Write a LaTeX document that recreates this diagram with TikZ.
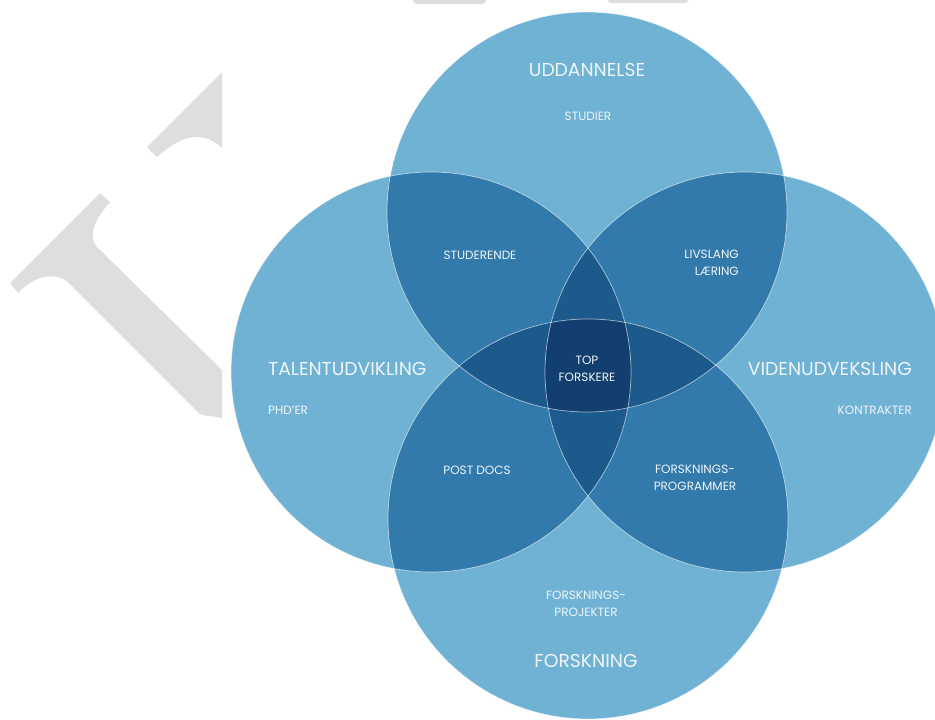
\documentclass[tikz,border=0pt]{standalone}
\usepackage{fontspec}
\setmainfont{Poppins}
\definecolor{c1}{HTML}{70B2D3}
\definecolor{c2}{HTML}{327AAB}
\definecolor{c3}{HTML}{1C5A8D}
\definecolor{c4}{HTML}{123F70}
\definecolor{wm}{HTML}{DEDEDE}
\definecolor{txt}{HTML}{EEF5F9}
\tikzset{
  title/.style={text=txt, inner sep=0pt, font=\fontsize{18.7}{22}\selectfont},
  label/.style={text=txt, inner sep=0pt, align=center, font=\fontsize{12}{17}\selectfont},
  rim/.style={draw=white, draw opacity=0.6, line width=0.7pt},
}
\begin{document}
\begin{tikzpicture}[x=1pt,y=-1pt]
\useasboundingbox (0,0) rectangle (935,720);
% watermark shapes
\fill[wm] (147,147) -- (222,72) -- (222,148) .. controls (205,132) and (185,132) .. (157,157) -- cycle;
\fill[wm] (10,283) -- (100,193) -- (110,202) .. controls (90,225) and (88,240) .. (100,250)
  -- (222,370) -- (222,418) .. controls (212,416) and (205,416) .. (200,414)
  -- (68,282) .. controls (55,272) and (35,275) .. (18,293) -- cycle;
\fill[wm, rounded corners=4pt] (413,-10) rectangle (486,4);
\fill[wm, rounded corners=3pt] (608,-10) rectangle (688,3);
% circle centres
\coordinate (cT) at (587,212);
\coordinate (cL) at (431,372);
\coordinate (cR) at (745,372);
\coordinate (cB) at (588,519);
\def\rr{200pt}
% single
\fill[c1] (cT) circle (\rr);
\fill[c1] (cL) circle (\rr);
\fill[c1] (cR) circle (\rr);
\fill[c1] (cB) circle (\rr);
% pairs
\begin{scope}\clip (cT) circle (\rr); \fill[c2] (cL) circle (\rr); \fill[c2] (cR) circle (\rr); \fill[c2] (cB) circle (\rr);\end{scope}
\begin{scope}\clip (cL) circle (\rr); \fill[c2] (cR) circle (\rr); \fill[c2] (cB) circle (\rr);\end{scope}
\begin{scope}\clip (cR) circle (\rr); \fill[c2] (cB) circle (\rr);\end{scope}
% triples
\begin{scope}\clip (cT) circle (\rr); \clip (cL) circle (\rr); \fill[c3] (cR) circle (\rr); \fill[c3] (cB) circle (\rr);\end{scope}
\begin{scope}\clip (cT) circle (\rr); \clip (cR) circle (\rr); \fill[c3] (cB) circle (\rr);\end{scope}
\begin{scope}\clip (cL) circle (\rr); \clip (cR) circle (\rr); \fill[c3] (cB) circle (\rr);\end{scope}
% quad
\begin{scope}\clip (cT) circle (\rr); \clip (cL) circle (\rr); \clip (cR) circle (\rr); \fill[c4] (cB) circle (\rr);\end{scope}
% rims
\draw[rim] (cT) circle (\rr);
\draw[rim] (cL) circle (\rr);
\draw[rim] (cR) circle (\rr);
\draw[rim] (cB) circle (\rr);
% texts
\node[title] (uddannelse) at (587,70) {UDDANNELSE};
\node[label] (studier) at (588,116) {STUDIER};
\node[label] (studerende) at (480,255) {STUDERENDE};
\node[label, align=right, anchor=east] (livslang) at (739,263) {LIVSLANG\\LÆRING};
\node[label] (top) at (587,369) {TOP\\FORSKERE};
\node[title, anchor=west] (talent) at (268,369) {TALENTUDVIKLING};
\node[label, anchor=west] (phd) at (268,410) {PHD'ER};
\node[title, anchor=east] (viden) at (912,369) {VIDENUDVEKSLING};
\node[label, anchor=east] (kontrakter) at (912,410) {KONTRAKTER};
\node[label] (postdocs) at (477,470) {POST DOCS};
\node[label] (fprog) at (695,478) {FORSKNINGS-\\PROGRAMMER};
\node[label] (fproj) at (586,604) {FORSKNINGS-\\PROJEKTER};
\node[title] (forskning) at (586,661) {FORSKNING};
\end{tikzpicture}
\end{document}
